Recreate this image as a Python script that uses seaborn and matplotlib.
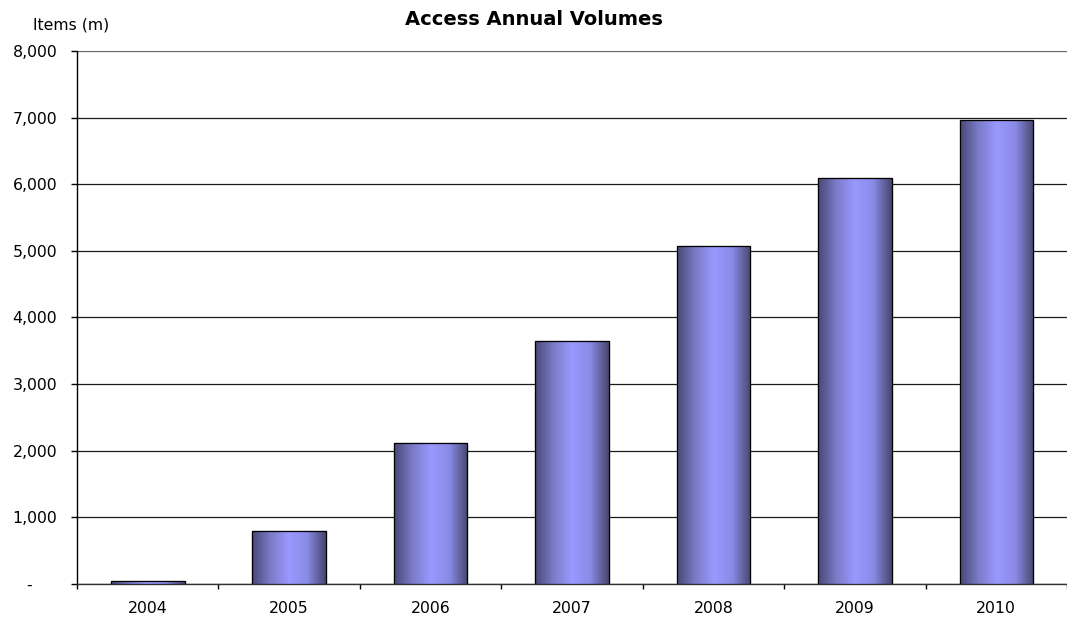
import numpy as np
import pandas as pd
import matplotlib
matplotlib.use("Agg")
import matplotlib.pyplot as plt
import seaborn as sns
from matplotlib.colors import LinearSegmentedColormap
from matplotlib.ticker import FuncFormatter, FixedLocator

years = ["2004", "2005", "2006", "2007", "2008", "2009", "2010"]
volumes = [45, 800, 2120, 3648, 5075, 6095, 6965]
title = "Access Annual Volumes"
ylabel = "Items (m)"

sns.set_theme(style="white")
plt.rcParams['font.family'] = ['DejaVu Sans']

fig = plt.figure(figsize=(10.67, 6.18), dpi=100)
ax = fig.add_axes([0.0722, 0.055, 0.9278, 0.8625])

df = pd.DataFrame({"year": years, "volume": volumes})
sns.barplot(data=df, x="year", y="volume", ax=ax, color="#9999ff",
            width=0.52, edgecolor="black", linewidth=0.8, saturation=1, zorder=3)

ax.set_ylim(0, 8000)
ax.set_xlim(-0.5, len(years) - 0.5)

# gradient fill over each bar
cmap = LinearSegmentedColormap.from_list("g", ["#484878", "#7b7bc8", "#9999ff", "#8a8ae6", "#46466f"])
grad = np.linspace(0, 1, 256).reshape(1, -1)
for p in list(ax.patches):
    x0, y0 = p.get_x(), p.get_y()
    w, h = p.get_width(), p.get_height()
    im = ax.imshow(grad, cmap=cmap, aspect="auto", extent=[x0, x0 + w, y0, y0 + h],
                   zorder=3.5, interpolation="bicubic")
    im.set_clip_path(p)
    r = plt.Rectangle((x0, y0), w, h, fill=False, edgecolor="black", linewidth=0.9, zorder=4)
    ax.add_patch(r)
ax.set_xlim(-0.5, len(years) - 0.5)
ax.set_ylim(0, 8000)

ax.set_yticks(np.arange(0, 8001, 1000))
ax.yaxis.set_major_formatter(FuncFormatter(lambda v, _: "-     " if v == 0 else f"{int(v):,}"))
ax.grid(axis="y", color="#1a1a1a", linewidth=0.9, zorder=0)
ax.grid(axis="x", visible=False)
ax.get_ygridlines()[-1].set_color("#666666")

for s in ["top", "right"]:
    ax.spines[s].set_visible(False)
ax.spines["left"].set_color("black")
ax.spines["left"].set_linewidth(1.0)
ax.spines["bottom"].set_color("#333333")
ax.spines["bottom"].set_linewidth(1.0)

ax.xaxis.set_minor_locator(FixedLocator(np.arange(-0.5, len(years), 1.0)))
ax.tick_params(axis="x", which="major", length=0, pad=12, labelsize=11.3, colors="black")
ax.tick_params(axis="x", which="minor", length=3.5, width=1, color="black", direction="out", bottom=True)
ax.tick_params(axis="y", which="major", length=4.3, width=1, color="black", direction="out",
               left=True, labelsize=11.3, pad=10, labelcolor="black")
ax.set_xlabel("")
ax.set_ylabel("")

fig.text(0.5, 0.968, title, ha="center", va="center", fontsize=14, fontweight="bold", color="black")
fig.text(0.031, 0.96, ylabel, ha="left", va="center", fontsize=11.3, color="black")

fig.savefig("out.png", dpi=100)
